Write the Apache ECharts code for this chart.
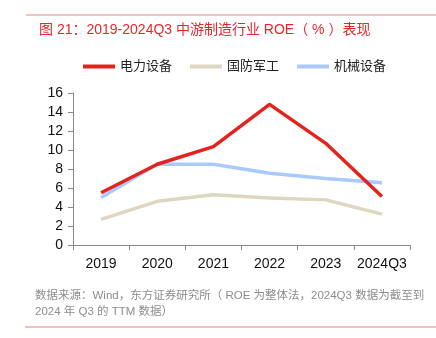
<!DOCTYPE html>
<html><head><meta charset="utf-8">
<script src="https://cdn.jsdelivr.net/npm/echarts@6/dist/echarts.min.js"></script>
<style>html,body{margin:0;padding:0;background:#fff}#c{width:436px;height:338px}</style>
</head><body><div id="c"></div>
<script>
const categories = ['2019','2020','2021','2022','2023','2024Q3'];
const seriesNames = ['电力设备','国防军工','机械设备'];
const power = [5.5, 8.5, 10.35, 14.8, 10.7, 5.1];
const defense = [2.7, 4.6, 5.3, 4.95, 4.75, 3.25];
const machinery = [5.0, 8.5, 8.5, 7.55, 7.0, 6.55];
const yTicks = [0, 2, 4, 6, 8, 10, 12, 14, 16];
const colors = ['#e3231c', '#dfd6c0', '#a9c9ff'];
const font = '"Liberation Sans", "Noto Sans CJK SC", sans-serif';

const chart = echarts.init(document.getElementById('c'));
chart.setOption({
  animation: false,
  textStyle: { fontFamily: font },
  title: {
    text: '图 21：2019-2024Q3 中游制造行业 ROE（ % ）表现',
    left: 34, top: 18,
    textStyle: { color: '#e8262a', fontSize: 14, fontWeight: 'normal', fontFamily: font }
  },
  graphic: [
    { type: 'line', shape: { x1: 26, y1: 15, x2: 436, y2: 15 }, style: { stroke: '#ee8080', lineWidth: 1 } },
    { type: 'line', shape: { x1: 25, y1: 327, x2: 436, y2: 327 }, style: { stroke: '#ee8080', lineWidth: 1 } },
    { type: 'text', left: 35, top: 290, style: { text: '数据来源：Wind，东方证券研究所（ ROE 为整体法，2024Q3 数据为截至到', fill: '#8c8c8c', fontSize: 11.5, fontFamily: font } },
    { type: 'text', left: 35, top: 306, style: { text: '2024 年 Q3 的 TTM 数据）', fill: '#8c8c8c', fontSize: 11.5, fontFamily: font } }
  ],
  legend: {
    top: 55, left: 78,
    itemWidth: 32, itemHeight: 4, itemGap: 18,
    icon: 'rect',
    textStyle: { fontSize: 13, color: '#222', fontFamily: font },
    data: seriesNames
  },
  grid: { left: 73, right: 26, top: 93, bottom: 93 },
  xAxis: {
    type: 'category', data: categories, boundaryGap: true,
    axisLine: { lineStyle: { color: '#888' } },
    axisTick: { show: true, alignWithLabel: false, interval: 0, lineStyle: { color: '#888' } },
    axisLabel: { color: '#111', fontSize: 14, margin: 12, interval: 0, fontFamily: font }
  },
  yAxis: {
    type: 'value', min: yTicks[0], max: yTicks[yTicks.length-1], interval: 2,
    axisLine: { show: true, lineStyle: { color: '#888' } },
    axisTick: { show: true, lineStyle: { color: '#888' } },
    splitLine: { show: false },
    axisLabel: { color: '#111', fontSize: 14, margin: 10, fontFamily: font }
  },
  series: [
    { name: seriesNames[0], type: 'line', data: power, symbol: 'none', lineStyle: { width: 3.5, color: colors[0] }, itemStyle: { color: colors[0] }, z: 3 },
    { name: seriesNames[1], type: 'line', data: defense, symbol: 'none', lineStyle: { width: 3.5, color: colors[1] }, itemStyle: { color: colors[1] }, z: 1 },
    { name: seriesNames[2], type: 'line', data: machinery, symbol: 'none', lineStyle: { width: 3.5, color: colors[2] }, itemStyle: { color: colors[2] }, z: 2 }
  ]
});
</script></body></html>
